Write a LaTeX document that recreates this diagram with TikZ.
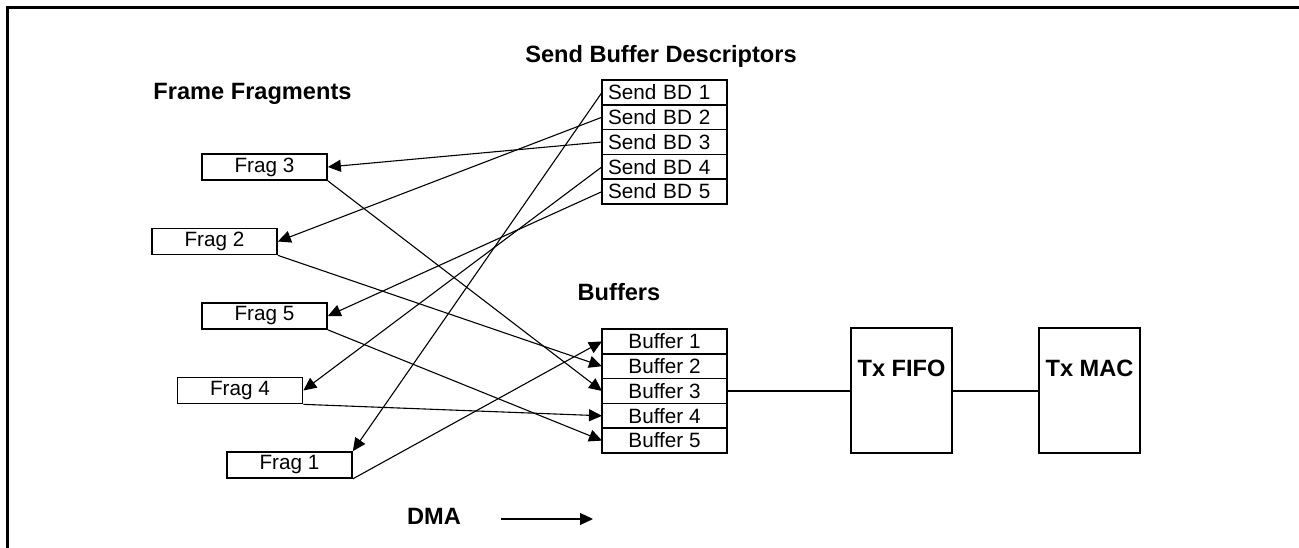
\documentclass[tikz,border=0pt]{standalone}
\usepackage{fontspec}
\setmainfont{Liberation Sans}
\usetikzlibrary{positioning,arrows.meta}
\begin{document}
\begin{tikzpicture}[x=1pt,y=-1pt,
    fragbox/.style={draw,line width=1.7pt,minimum width=125pt,minimum height=26pt,inner sep=0pt,font=\fontsize{20.7}{24}\selectfont},
    rowbox/.style={draw,line width=1.7pt,minimum width=125pt,minimum height=24.8pt,inner sep=0pt,outer sep=0pt,font=\fontsize{20.7}{24}\selectfont},
    bdrow/.style={rowbox,text width=113pt,inner xsep=6pt,align=left},
    unitbox/.style={draw,line width=1.9pt,minimum width=101pt,minimum height=125pt},
    heading/.style={font=\fontsize{23.6}{28}\selectfont\bfseries},
    link/.style={line width=1.1pt,-{Triangle[length=13pt,width=12pt]}}]
        \useasboundingbox (0,0) rectangle (1299,548);
        \draw[line width=2.5pt] (7.5,548) -- (7.5,7.5) -- (1299,7.5);
        % headings
        \node[heading,anchor=base] at (252.5,100) {Frame Fragments};
        \node[heading,anchor=base] at (661,63) {Send Buffer Descriptors};
        \node[heading,anchor=base] at (619,300) {Buffers};
        \node[heading,anchor=base] (dma) at (434,524) {DMA};
        % fragments
        \node[fragbox] (frag3) at (264.5,167) {Frag 3};
        \node[fragbox] (frag2) at (214.5,241.5) {Frag 2};
        \node[fragbox] (frag5) at (264.5,316) {Frag 5};
        \node[fragbox] (frag4) at (240,390.5) {Frag 4};
        \node[fragbox] (frag1) at (289.5,465) {Frag 1};
        % descriptor table
        \node[bdrow] (bd1) at (664.5,92.4) {Send BD 1};
        \foreach \i [count=\j from 2] in {1,...,4}
          \node[bdrow,below=0pt of bd\i] (bd\j) {Send BD \j};
        % buffer table
        \node[rowbox] (buf1) at (664.5,341.4) {Buffer 1};
        \foreach \i [count=\j from 2] in {1,...,4}
          \node[rowbox,below=0pt of buf\i] (buf\j) {Buffer \j};
        % fifo and mac
        \node[unitbox] (fifo) at (901.5,390.5) {};
        \node[heading] at ([yshift=-41pt]fifo.north) {Tx FIFO};
        \node[unitbox] (mac) at (1089.5,390.5) {};
        \node[heading] at ([yshift=-41pt]mac.north) {Tx MAC};
        \draw[line width=1.7pt] (buf3.east) -- (buf3.east -| fifo.west);
        \draw[line width=1.7pt] (buf3.east -| fifo.east) -- (buf3.east -| mac.west);
        % descriptors point to fragments
        \draw[link] (bd1.west) -- (frag1.north east);
        \draw[link] (bd2.west) -- (frag2.east);
        \draw[link] (bd3.west) -- (frag3.east);
        \draw[link] (bd4.west) -- (frag4.east);
        \draw[link] (bd5.west) -- (frag5.east);
        % fragments copied to buffers
        \draw[link] (frag3.south east) -- (buf3.west);
        \draw[link] (frag2.south east) -- (buf2.west);
        \draw[link] (frag5.south east) -- (buf5.west);
        \draw[link] (frag4.south east) -- (buf4.west);
        \draw[link] (frag1.south east) -- (buf1.west);
        % legend
        \coordinate (dmaA) at (501,519);
        \coordinate (dmaB) at (593,519);
        \draw[link] (dmaA) -- (dmaB);
      \end{tikzpicture}
\end{document}
